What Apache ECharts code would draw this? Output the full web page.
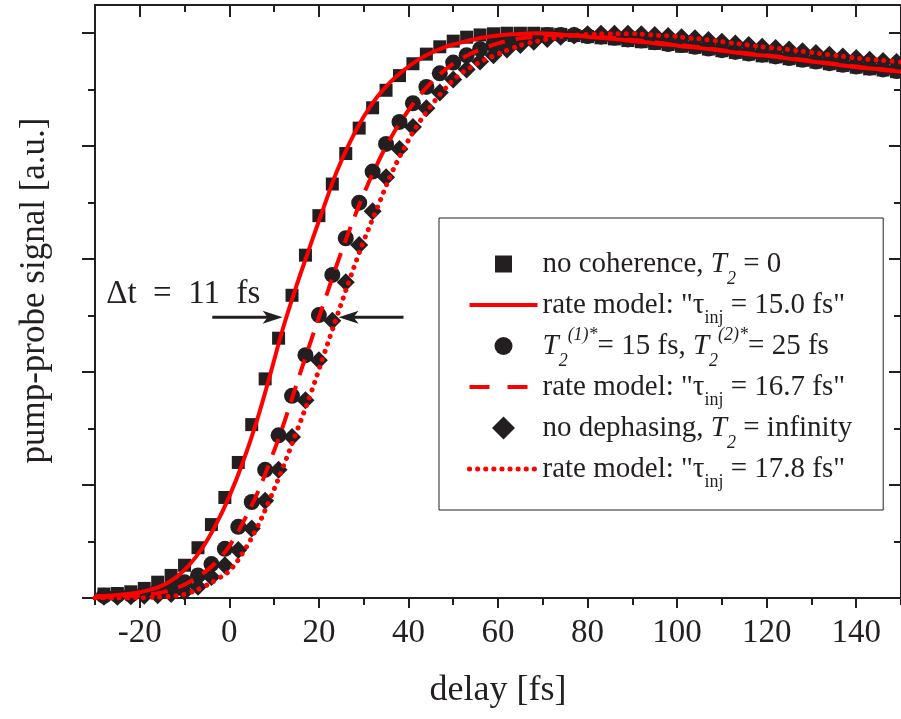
<!DOCTYPE html>
<html>
<head>
<meta charset="utf-8">
<script src="https://cdn.jsdelivr.net/npm/echarts@6/dist/echarts.min.js"></script>
<style>
html,body{margin:0;padding:0;background:#fff;}
#chart{width:901px;height:719px;}
</style>
</head>
<body>
<div id="chart"></div>
<script>
// ---- data ----
const markerX = [-28,-25,-22,-19,-16,-13,-10,-7,-4,-1,2,5,8,11,14,17,20,23,26,29,32,35,38,41,44,47,50,53,56,59,62,65,68,71,74,77,80,83,86,89,92,95,98,101,104,107,110,113,116,119,122,125,128,131,134,137,140,143,146,149];
const squares = [0.007,0.008,0.011,0.017,0.028,0.040,0.058,0.089,0.130,0.178,
  0.240,0.307,0.388,0.460,0.536,0.607,0.677,0.733,0.787,0.832,
  0.868,0.899,0.925,0.946,0.963,0.976,0.986,0.993,0.997,0.999,
  1.000,1.000,1.000,0.999,0.998,0.996,0.994,0.992,0.990,0.987,
  0.985,0.982,0.980,0.977,0.975,0.972,0.969,0.966,0.963,0.960,
  0.958,0.955,0.952,0.949,0.946,0.943,0.940,0.937,0.935,0.932];
const circles = [0.004,0.005,0.006,0.009,0.013,0.019,0.028,0.040,0.060,0.087,
  0.126,0.170,0.227,0.288,0.358,0.430,0.501,0.572,0.637,0.700,
  0.755,0.804,0.843,0.876,0.905,0.929,0.948,0.961,0.972,0.980,
  0.987,0.992,0.995,0.997,0.997,0.997,0.995,0.994,0.992,0.989,
  0.987,0.984,0.981,0.979,0.976,0.973,0.970,0.967,0.964,0.962,
  0.959,0.956,0.953,0.950,0.947,0.944,0.941,0.939,0.936,0.933];
const diamonds = [0.002,0.002,0.003,0.004,0.005,0.007,0.011,0.020,0.037,0.058,
  0.085,0.123,0.172,0.227,0.285,0.350,0.421,0.491,0.559,0.625,
  0.685,0.745,0.795,0.834,0.867,0.895,0.918,0.936,0.950,0.961,
  0.971,0.979,0.985,0.990,0.994,0.996,0.998,0.999,0.999,0.999,
  0.998,0.997,0.995,0.993,0.991,0.988,0.985,0.982,0.979,0.976,
  0.974,0.971,0.968,0.965,0.962,0.959,0.956,0.953,0.951,0.949];

const lineX = [-30,-27,-24,-21,-18,-15,-12,-9,-6,-3,0,3,6,9,12,15,18,21,24,27,30,33,36,39,42,45,48,51,54,57,60,63,66,69,72,75,78,81,84,87,90,93,96,99,102,105,108,111,114,117,120,123,126,129,132,135,138,141,144,147,150];
const rate150 = [0.003,0.004,0.006,0.009,0.014,0.022,0.036,0.058,0.089,0.130,
  0.180,0.240,0.310,0.392,0.478,0.553,0.622,0.690,0.755,0.808,
  0.852,0.887,0.914,0.935,0.952,0.965,0.975,0.982,0.988,0.993,
  0.996,0.998,0.999,1.000,0.999,0.997,0.995,0.993,0.991,0.989,
  0.986,0.984,0.981,0.979,0.976,0.974,0.971,0.968,0.965,0.962,
  0.960,0.957,0.954,0.951,0.948,0.945,0.942,0.939,0.937,0.934,0.932];
const rate167 = [0.001,0.002,0.003,0.004,0.006,0.010,0.017,0.028,0.043,0.063,
  0.092,0.133,0.181,0.240,0.305,0.378,0.450,0.520,0.590,0.655,
  0.715,0.768,0.814,0.852,0.885,0.912,0.934,0.951,0.964,0.974,
  0.982,0.988,0.992,0.995,0.997,0.997,0.996,0.995,0.993,0.991,
  0.988,0.986,0.983,0.980,0.978,0.975,0.972,0.969,0.966,0.963,
  0.961,0.958,0.955,0.952,0.949,0.946,0.943,0.940,0.938,0.935,0.933];
const rate178 = [0.000,0.000,0.000,0.000,0.001,0.002,0.004,0.009,0.019,0.032,
  0.048,0.080,0.122,0.174,0.232,0.294,0.358,0.428,0.498,0.567,
  0.632,0.690,0.748,0.796,0.837,0.871,0.900,0.924,0.940,0.953,
  0.963,0.973,0.981,0.986,0.991,0.995,0.997,0.998,0.999,0.999,
  0.999,0.998,0.996,0.995,0.992,0.990,0.987,0.984,0.981,0.978,
  0.975,0.973,0.970,0.967,0.964,0.961,0.958,0.955,0.953,0.951,0.949];

const xMajorTicks = [-20,0,20,40,60,80,100,120,140];
const xMinorTicks = [-30,-10,10,30,50,70,90,110,130,150];
const yMajorTicks = [0,0.2,0.4,0.6,0.8,1.0];
const yMinorTicks = [0.1,0.3,0.5,0.7,0.9];

const seriesNames = [
  'no coherence, T2 = 0',
  'rate model: "τinj = 15.0 fs"',
  'T2(1)* = 15 fs, T2(2)* = 25 fs',
  'rate model: "τinj = 16.7 fs"',
  'no dephasing, T2 = infinity',
  'rate model: "τinj = 17.8 fs"'
];
const legendRich = {};
legendRich[seriesNames[0]] = 'no coherence, {it|T}{sub|2} = 0';
legendRich[seriesNames[1]] = 'rate model: "τ{inj|inj} = 15.0 fs"';
legendRich[seriesNames[2]] = '{it|T}{sub|2}{sup|(1)*}= 15 fs, {it|T}{sub|2}{sup|(2)*}= 25 fs';
legendRich[seriesNames[3]] = 'rate model: "τ{inj|inj} = 16.7 fs"';
legendRich[seriesNames[4]] = 'no dephasing, {it|T}{sub|2} = infinity';
legendRich[seriesNames[5]] = 'rate model: "τ{inj|inj} = 17.8 fs"';

// ---- chart ----
const INK = '#231f20';
const RED = '#ff0000';
const FONT = 'Liberation Serif';
const pair = (xs, ys) => xs.map((x, i) => [x, ys[i]]);

// legend icons (padded paths so every icon keeps its own size inside a 23px box)
const ICON_SQUARE = 'path://M0,0M23,23M3,3L20,3L20,20L3,20Z';
const ICON_CIRCLE = 'path://M0,0M23,23M2.5,11.5A9,9 0 1 1 20.5,11.5A9,9 0 1 1 2.5,11.5Z';
const ICON_DIAMOND = 'path://M11.5,0L23,11.5L11.5,23L0,11.5Z';

const SOLID = {color: RED, width: 4, type: 'solid', opacity: 1};
const DASHED = {color: RED, width: 4, type: [17, 11], opacity: 1};
const DASHED_LEGEND = {color: RED, width: 4, type: [20, 18], opacity: 1};
const DOTTED = {color: RED, width: 5, type: [0.1, 8], cap: 'round', opacity: 1};

const chart = echarts.init(document.getElementById('chart'), null, {renderer: 'canvas'});

function xAx(pos, ticks, len, inside, extra) {
  return Object.assign({
    type: 'value', min: -30, max: 150, position: pos,
    axisLine: {show: false, onZero: false},
    axisTick: {show: true, customValues: ticks, length: len, inside: inside, lineStyle: {color: INK, width: 2}},
    axisLabel: {show: false},
    splitLine: {show: false}
  }, extra || {});
}
function yAx(pos, ticks, len, inside, extra) {
  return Object.assign({
    type: 'value', min: 0, max: 1.05, position: pos,
    axisLine: {show: false, onZero: false},
    axisTick: {show: true, customValues: ticks, length: len, inside: inside, lineStyle: {color: INK, width: 2}},
    axisLabel: {show: false},
    splitLine: {show: false}
  }, extra || {});
}
const shownLine = {show: true, onZero: false, lineStyle: {color: INK, width: 2}};

const option = {
  animation: false,
  backgroundColor: '#ffffff',
  grid: {left: 95, top: 5, right: -5, bottom: 121, containLabel: false},
  xAxis: [
    xAx('bottom', xMajorTicks, 10, false, {
      axisLine: shownLine,
      axisLabel: {show: true, customValues: xMajorTicks, fontSize: 33, fontFamily: FONT, color: INK, margin: 19},
      name: 'delay [fs]', nameLocation: 'middle', nameGap: 75,
      nameTextStyle: {fontSize: 36, fontFamily: FONT, color: INK}
    }),
    xAx('bottom', xMinorTicks, 7, false),
    xAx('top', xMajorTicks, 12, true, {axisLine: shownLine}),
    xAx('top', xMinorTicks, 7, true)
  ],
  yAxis: [
    yAx('left', yMajorTicks, 13, false, {
      axisLine: shownLine,
      name: 'pump-probe signal [a.u.]', nameLocation: 'middle', nameGap: 43,
      nameTextStyle: {fontSize: 35, fontFamily: FONT, color: INK, padding: [0, 0, 0, 22]}
    }),
    yAx('left', yMinorTicks, 7, false),
    yAx('right', yMajorTicks, 12, true, {axisLine: shownLine}),
    yAx('right', yMinorTicks, 7, true)
  ],
  legend: {
    orient: 'vertical', left: 439, top: 218,
    padding: [22, 31, 19, 28],
    itemGap: -5, itemWidth: 68, itemHeight: 23,
    backgroundColor: '#ffffff', borderColor: INK, borderWidth: 1,
    selectedMode: false,
    data: [
      {name: seriesNames[0], icon: ICON_SQUARE},
      {name: seriesNames[1], lineStyle: SOLID},
      {name: seriesNames[2], icon: ICON_CIRCLE},
      {name: seriesNames[3], lineStyle: DASHED_LEGEND},
      {name: seriesNames[4], icon: ICON_DIAMOND},
      {name: seriesNames[5], lineStyle: DOTTED}
    ],
    formatter: n => legendRich[n],
    textStyle: {
      fontSize: 29, fontFamily: FONT, color: INK, lineHeight: 44,
      rich: {
        it: {fontSize: 29, fontFamily: FONT, fontStyle: 'italic', color: INK, lineHeight: 44},
        sub: {fontSize: 18, fontFamily: FONT, fontStyle: 'italic', color: INK, lineHeight: 14, padding: [30, 0, 0, 0]},
        inj: {fontSize: 18, fontFamily: FONT, color: INK, lineHeight: 14, padding: [26, 0, 0, 0]},
        sup: {fontSize: 18, fontFamily: FONT, fontStyle: 'italic', color: INK, lineHeight: 14, padding: [0, 0, 22, 0]}
      }
    }
  },
  series: [
    {name: seriesNames[0], type: 'scatter', symbol: 'rect', symbolSize: 13,
     itemStyle: {color: INK, opacity: 1}, data: pair(markerX, squares), emphasis: {disabled: true}},
    {name: seriesNames[1], type: 'line', symbol: 'none', showSymbol: false, smooth: 0.4,
     itemStyle: {color: RED, opacity: 0}, lineStyle: SOLID,
     data: pair(lineX, rate150), emphasis: {disabled: true}},
    {name: seriesNames[2], type: 'scatter', symbol: 'circle', symbolSize: 16,
     itemStyle: {color: INK, opacity: 1}, data: pair(markerX, circles), emphasis: {disabled: true}},
    {name: seriesNames[3], type: 'line', symbol: 'none', showSymbol: false, smooth: 0.4,
     itemStyle: {color: RED, opacity: 0}, lineStyle: DASHED,
     data: pair(lineX, rate167), emphasis: {disabled: true}},
    {name: seriesNames[4], type: 'scatter', symbol: 'diamond', symbolSize: 18,
     itemStyle: {color: INK, opacity: 1}, data: pair(markerX, diamonds), emphasis: {disabled: true}},
    {name: seriesNames[5], type: 'line', symbol: 'none', showSymbol: false, smooth: 0.4,
     itemStyle: {color: RED, opacity: 0}, lineStyle: DOTTED,
     data: pair(lineX, rate178), emphasis: {disabled: true}}
  ]
};
chart.setOption(option);

// ---- annotation: Δt = 11 fs with two arrows, anchored in data space ----
const P = v => chart.convertToPixel({xAxisIndex: 0, yAxisIndex: 0}, v);
const aY = 0.497;
const L0 = P([-3.8, aY]), L1 = P([11.9, aY]);
const R0 = P([38.9, aY]), R1 = P([24.4, aY]);
const T0 = P([-27.5, 0.538]);
function arrow(from, to) {
  const dir = Math.sign(to[0] - from[0]);
  const tip = to[0], y = to[1];
  return [
    {type: 'line', shape: {x1: from[0], y1: y, x2: tip - dir * 10, y2: y},
     style: {stroke: INK, lineWidth: 3}, silent: true, z: 50},
    {type: 'polygon', shape: {points: [[tip, y], [tip - dir * 20, y - 6.5], [tip - dir * 15, y], [tip - dir * 20, y + 6.5]]},
     style: {fill: INK}, silent: true, z: 50}
  ];
}
chart.setOption({
  graphic: [
    {type: 'text', x: T0[0], y: T0[1], silent: true, z: 50,
     style: {text: 'Δt  =  11  fs', font: '33px "Liberation Serif"', fill: INK, textAlign: 'left', textVerticalAlign: 'middle'}}
  ].concat(arrow(L0, L1)).concat(arrow(R0, R1))
});
</script>
</body>
</html>
